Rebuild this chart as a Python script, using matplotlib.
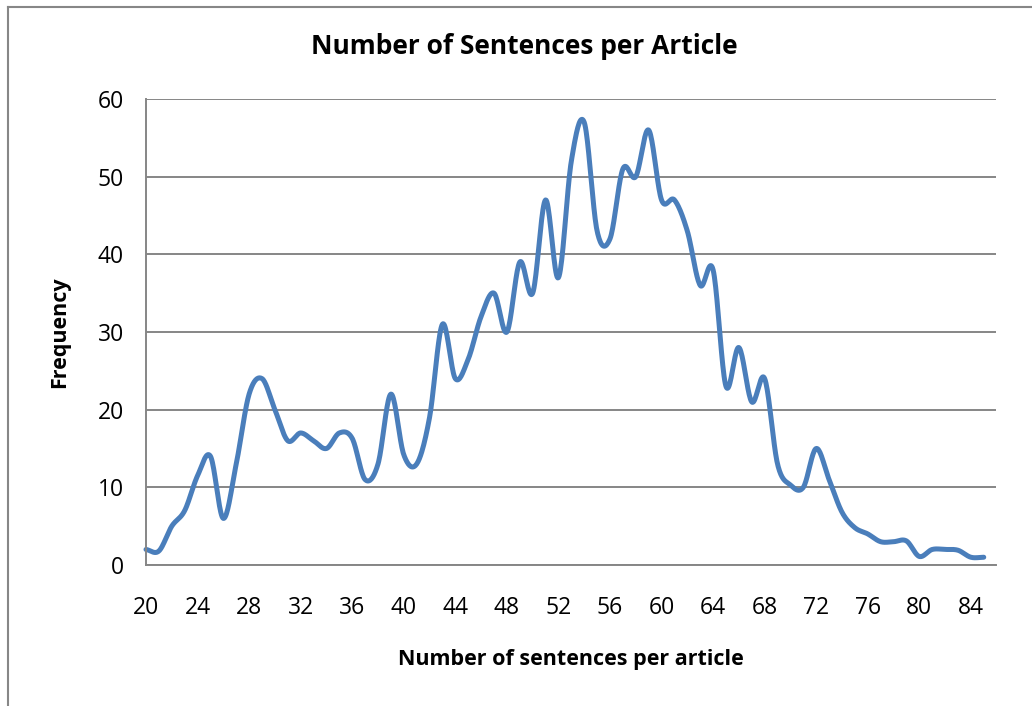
import numpy as np
import matplotlib
matplotlib.use('Agg')
import matplotlib.pyplot as plt
from matplotlib.lines import Line2D

# Dados
sentences = list(range(20, 86))
frequency = [2, 1.8, 5, 7, 11.5, 14, 6, 13, 22, 24,
             20, 16, 17, 16, 15, 17, 16.3, 11, 13, 22,
             14.2, 13, 19, 31, 24, 26.5, 32, 35, 30, 39,
             35, 47, 37, 52, 57, 43, 42, 51, 50, 56,
             47, 47, 43, 36, 38, 23, 28, 21, 24, 13,
             10.3, 10, 15, 11, 6.8, 4.8, 4, 3, 3, 3.1,
             1.1, 2, 2, 1.9, 1, 1]
x_ticks = list(range(20, 85, 4))
y_ticks = [0, 10, 20, 30, 40, 50, 60]


def suaviza(x, y, n=20):
  # curva Catmull-Rom passando pelos pontos (como linha suavizada do Excel)
  x = np.asarray(x, float)
  y = np.asarray(y, float)
  px = np.concatenate([[2 * x[0] - x[1]], x, [2 * x[-1] - x[-2]]])
  py = np.concatenate([[2 * y[0] - y[1]], y, [2 * y[-1] - y[-2]]])
  xs, ys = [], []
  t = np.linspace(0, 1, n, endpoint=False)
  for i in range(1, len(px) - 2):
    for p, out in ((px, xs), (py, ys)):
      p0, p1, p2, p3 = p[i - 1], p[i], p[i + 1], p[i + 2]
      out.extend(0.5 * ((2 * p1) + (-p0 + p2) * t
                        + (2 * p0 - 5 * p1 + 4 * p2 - p3) * t ** 2
                        + (-p0 + 3 * p1 - 3 * p2 + p3) * t ** 3))
  xs.append(x[-1])
  ys.append(y[-1])
  return np.array(xs), np.array(ys)


plt.rcParams['font.family'] = ['Open Sans', 'DejaVu Sans']

fig = plt.figure(figsize=(10.32, 7.06), dpi=100)
W, H = 1032, 706
left, right, top, bottom = 146, 996, 99, 565
ax = fig.add_axes([left / W, 1 - bottom / H, (right - left) / W, (bottom - top) / H])

grid_color = '#868686'
ax.set_ylim(0, 60)
ax.set_xlim(20, 85.95)
ax.set_yticks(y_ticks)
ax.set_xticks(x_ticks)
ax.yaxis.grid(True, color=grid_color, linewidth=1.4)
ax.set_axisbelow(True)
for s in ['top', 'right']:
  ax.spines[s].set_visible(False)
for s in ['left', 'bottom']:
  ax.spines[s].set_color(grid_color)
  ax.spines[s].set_linewidth(1.4)
ax.tick_params(axis='both', length=0, labelsize=16.5, colors='black')
ax.tick_params(axis='y', pad=16)
ax.tick_params(axis='x', pad=22)

sx, sy = suaviza(sentences, frequency)
ax.plot(sx, sy, color='#4a7ebb', linewidth=3.6, solid_capstyle='round', clip_on=False)

fig.text(524 / W, 1 - 47 / H, 'Number of Sentences per Article', ha='center', va='center',
         fontsize=19, fontweight='bold')
fig.text(571 / W, 1 - 660 / H, 'Number of sentences per article', ha='center', va='center',
         fontsize=15.5, fontweight='bold')
fig.text(60 / W, 1 - 332 / H, 'Frequency', ha='center', va='center', rotation=90,
         fontsize=15.5, fontweight='bold')

# moldura externa da area do grafico
fig.add_artist(Line2D([8 / W, 1], [1 - 7 / H, 1 - 7 / H], color='#878787', linewidth=1.5))
fig.add_artist(Line2D([8 / W, 8 / W], [0, 1 - 7 / H], color='#878787', linewidth=1.5))

fig.savefig('out.png', dpi=100)
